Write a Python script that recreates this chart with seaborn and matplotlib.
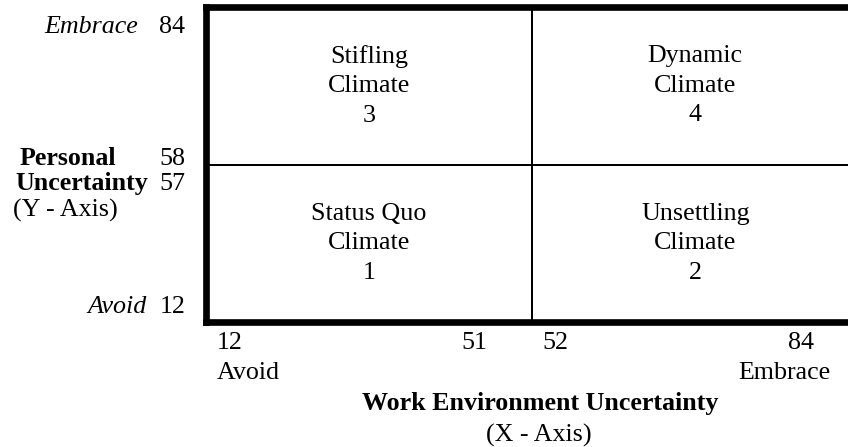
import numpy as np
import seaborn as sns
import matplotlib.pyplot as plt
from matplotlib.colors import ListedColormap

# Quadrant labels (rows top -> bottom, columns left -> right)
quadrant_names = [["Stifling\nClimate", "Dynamic\nClimate"],
                  ["Status Quo\nClimate", "Unsettling\nClimate"]]
quadrant_numbers = [[3, 4], [1, 2]]

# Axis scale labels
x_ticks = ["12", "51", "52", "84"]
y_ticks = ["84", "58", "57", "12"]
x_ends = ["Avoid", "Embrace"]
y_ends = ["Embrace", "Avoid"]
x_title = "Work Environment Uncertainty"
y_title = ["Personal", "Uncertainty"]

W, H = 848, 447
FS = 18.7


def px(x, y):
    return x / W, 1 - y / H


def main():
    sns.set_style("white")
    plt.rcParams['font.family'] = ['Liberation Serif', 'DejaVu Serif']
    plt.rcParams['text.color'] = 'black'

    fig = plt.figure(figsize=(W / 100, H / 100), dpi=100)
    left, top, bottom = 205.5, 7, 322
    width = 2 * (532 - left)
    ax = fig.add_axes([left / W, (H - bottom) / H, width / W, (bottom - top) / H])

    labels = np.array([[f"{n}\n{k}" for n, k in zip(rn, rk)]
                       for rn, rk in zip(quadrant_names, quadrant_numbers)])
    sns.heatmap(np.zeros((2, 2)), ax=ax, cmap=ListedColormap(["white"]), cbar=False,
                annot=labels, fmt="",
                annot_kws={"fontsize": FS, "color": "black", "linespacing": 1.45},
                linewidths=1.2, linecolor="black",
                xticklabels=False, yticklabels=False)

    for side in ["left", "top", "bottom", "right"]:
        ax.spines[side].set_visible(True)
        ax.spines[side].set_linewidth(4.8)
        ax.spines[side].set_color("black")
        ax.spines[side].set_zorder(5)

    # y-side labels
    fig.text(*px(185, 33), y_ticks[0], ha="right", va="baseline", fontsize=FS)
    fig.text(*px(185, 165), y_ticks[1], ha="right", va="baseline", fontsize=FS)
    fig.text(*px(185, 190), y_ticks[2], ha="right", va="baseline", fontsize=FS)
    fig.text(*px(185, 313), y_ticks[3], ha="right", va="baseline", fontsize=FS)
    fig.text(*px(138, 33), y_ends[0], ha="right", va="baseline", fontsize=FS, style="italic")
    fig.text(*px(147, 313), y_ends[1], ha="right", va="baseline", fontsize=FS, style="italic")
    fig.text(*px(20, 165), y_title[0], ha="left", va="baseline", fontsize=FS, weight="bold")
    fig.text(*px(15, 190), y_title[1], ha="left", va="baseline", fontsize=FS, weight="bold")
    fig.text(*px(13, 217), "(Y - Axis)", ha="left", va="baseline", fontsize=FS)

    # x-side labels
    fig.text(*px(217, 349), x_ticks[0], ha="left", va="baseline", fontsize=FS)
    fig.text(*px(487, 349), x_ticks[1], ha="right", va="baseline", fontsize=FS)
    fig.text(*px(542, 349), x_ticks[2], ha="left", va="baseline", fontsize=FS)
    fig.text(*px(814, 349), x_ticks[3], ha="right", va="baseline", fontsize=FS)
    fig.text(*px(217, 379), x_ends[0], ha="left", va="baseline", fontsize=FS)
    fig.text(*px(831, 379), x_ends[1], ha="right", va="baseline", fontsize=FS)
    fig.text(*px(540, 410), x_title, ha="center", va="baseline", fontsize=FS, weight="bold")
    fig.text(*px(539, 442), "(X - Axis)", ha="center", va="baseline", fontsize=FS)

    fig.savefig("out.png", dpi=100)


if __name__ == "__main__":
    main()
